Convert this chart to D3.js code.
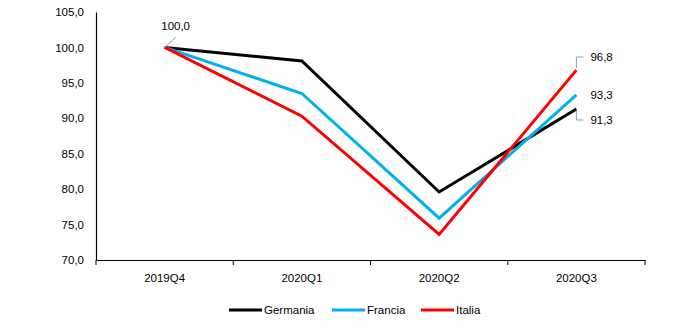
<!DOCTYPE html>
<html><head><meta charset="utf-8">
<script src="https://cdn.jsdelivr.net/npm/d3@7"></script>
<style>body{margin:0;background:#fff}svg{display:block}text{font-family:"Liberation Sans",Arial,sans-serif;font-size:11.5px;fill:#000}</style>
</head><body><svg id="c" width="700" height="327"></svg>
<script>
const categories = ["2019Q4","2020Q1","2020Q2","2020Q3"];
const germania = [100.0, 98.1, 79.6, 91.3];
const francia  = [100.0, 93.5, 75.9, 93.3];
const italia   = [100.0, 90.3, 73.6, 96.8];
const yTicks = [70,75,80,85,90,95,100,105];
const seriesNames = ["Germania","Francia","Italia"];
const seriesColors = ["#000000","#00b0f0","#ff0000"];

const svg = d3.select("#c");
const x = d3.scaleBand().domain(categories).range([96,645]);
const y = d3.scaleLinear().domain([70,105]).range([260,12]);
const fmt = v => v.toFixed(1).replace(".", ",");
const FS = "11.5px";

// y axis
const ya = svg.append("g").attr("transform","translate(96,0)")
  .call(d3.axisLeft(y).tickValues(yTicks).tickSize(0).tickPadding(12).tickFormat(fmt));
ya.select(".domain").attr("stroke","#000").attr("stroke-width",1.2);
ya.selectAll("text").style("font-family","'Liberation Sans',Arial,sans-serif").style("font-size",FS);

// x axis
const xa = svg.append("g").attr("transform","translate(0,260)")
  .call(d3.axisBottom(x).tickSize(0).tickPadding(14));
xa.select(".domain").attr("stroke","#000").attr("stroke-width",1.2);
xa.selectAll("text").style("font-family","'Liberation Sans',Arial,sans-serif").style("font-size",FS);
const edges = x.domain().map(d=>x(d)).concat([x.range()[1]]);
svg.append("g").selectAll("line").data(edges).join("line")
  .attr("x1",d=>d).attr("x2",d=>d).attr("y1",260).attr("y2",265)
  .attr("stroke","#000").attr("stroke-width",1);

const cx = d => x(d)+x.bandwidth()/2;
const line = d3.line().x((v,i)=>cx(categories[i])).y(v=>y(v));
const data = [germania, francia, italia];
data.forEach((s,i)=>{
  svg.append("path").datum(s).attr("d",line).attr("fill","none")
    .attr("stroke",seriesColors[i]).attr("stroke-width",3).attr("stroke-linejoin","miter");
});

// labels
const g = svg.append("g");
const p0x = cx(categories[0]), p0y = y(100);
g.append("path").attr("d",`M${p0x},${p0y} L${p0x+11},${p0y-10}`).attr("stroke","#999").attr("fill","none").attr("stroke-width",1);
g.append("text").attr("x",p0x+11).attr("y",p0y-17).attr("text-anchor","middle").text(fmt(germania[0]));

const lx = cx(categories[3]);
// Italia
let py = y(italia[3]);
g.append("path").attr("d",`M${lx},${py-2} L${lx},57 L${lx+7},57`).attr("stroke","#999").attr("fill","none");
g.append("text").attr("x",lx+14).attr("y",57).attr("dy","0.35em").text(fmt(italia[3]));
// Francia
py = y(francia[3]);
g.append("text").attr("x",lx+14).attr("y",py).attr("dy","0.35em").text(fmt(francia[3]));
// Germania
py = y(germania[3]);
g.append("path").attr("d",`M${lx},${py+2} L${lx},120 L${lx+7},120`).attr("stroke","#999").attr("fill","none");
g.append("text").attr("x",lx+14).attr("y",120).attr("dy","0.35em").text(fmt(germania[3]));

// legend
const legX = [229, 332, 421];
const lg = svg.append("g");
seriesNames.forEach((n,i)=>{
  lg.append("line").attr("x1",legX[i]).attr("x2",legX[i]+33).attr("y1",310).attr("y2",310)
    .attr("stroke",seriesColors[i]).attr("stroke-width",3);
  lg.append("text").attr("x",legX[i]+35).attr("y",310).attr("dy","0.35em").text(n);
});
</script></body></html>
